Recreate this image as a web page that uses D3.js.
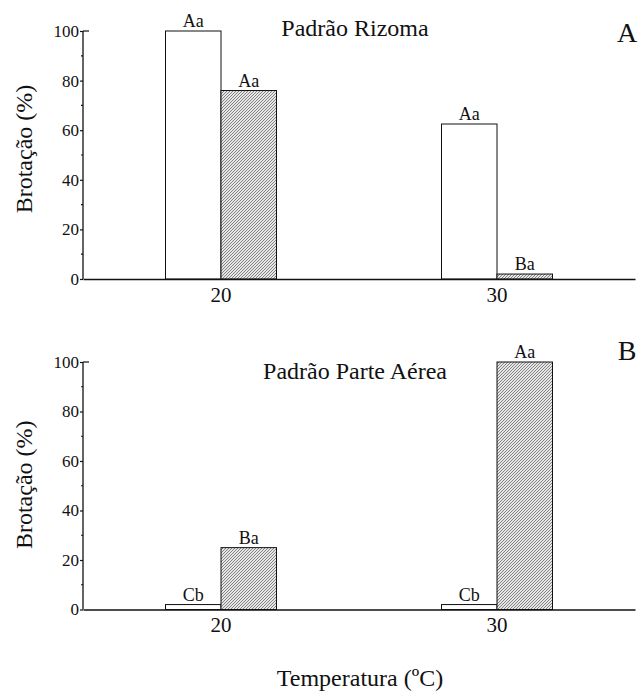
<!DOCTYPE html>
<html>
<head>
<meta charset="utf-8">
<script src="https://cdn.jsdelivr.net/npm/d3@7"></script>
<style>
  html, body { margin: 0; padding: 0; background: #fff; }
  svg { display: block; }
</style>
</head>
<body>
<svg id="chart" width="639" height="691"></svg>
<script>
// ---- data ----
const categories = ["20", "30"];
const seriesNames = ["claro", "hachurado"];
const rizomaClaro = [100, 62.5];
const rizomaHachurado = [76, 2];
const rizomaLetrasClaro = ["Aa", "Aa"];
const rizomaLetrasHachurado = ["Aa", "Ba"];
const aereaClaro = [2, 2];
const aereaHachurado = [25, 100];
const aereaLetrasClaro = ["Cb", "Cb"];
const aereaLetrasHachurado = ["Ba", "Aa"];
const yTicks = [0, 20, 40, 60, 80, 100];
const yMinorTicks = [10, 30, 50, 70, 90];
const panelTitles = ["Padrão Rizoma", "Padrão Parte Aérea"];
const panelLetters = ["A", "B"];
const yTitle = "Brotação (%)";
const xTitle = "Temperatura (ºC)";

// ---- layout ----
const FONT = "Liberation Serif";
const INK = "#111";
const svg = d3.select("#chart").attr("font-family", FONT);
const defs = svg.append("defs");
const pat = defs.append("pattern")
  .attr("id", "hatch").attr("patternUnits", "userSpaceOnUse")
  .attr("width", 3).attr("height", 3);
pat.append("rect").attr("width", 3).attr("height", 3).attr("fill", "#e6e6e6");
pat.append("path").attr("d", "M0,3 L3,0 M-1,1 L1,-1 M2,4 L4,2")
  .attr("stroke", "#6a6a6a").attr("stroke-width", 0.8);

const axisLeft = 83, axisRight = 635;
const x = d3.scaleBand().domain(categories).range([axisLeft, axisRight]).padding(0);
const barW = 55.5;
const xs = d3.scaleBand().domain(seriesNames).range([-barW, barW]).padding(0);

const panels = [
  { top: 31, bottom: 279, claro: rizomaClaro, hach: rizomaHachurado,
    lc: rizomaLetrasClaro, lh: rizomaLetrasHachurado,
    title: panelTitles[0], letter: panelLetters[0],
    titleX: 355, titleY: 36, letterY: 42, yTitleShift: -6 },
  { top: 362, bottom: 609.5, claro: aereaClaro, hach: aereaHachurado,
    lc: aereaLetrasClaro, lh: aereaLetrasHachurado,
    title: panelTitles[1], letter: panelLetters[1],
    titleX: 355, titleY: 379, letterY: 360, yTitleShift: -1 }
];

panels.forEach(p => {
  const g = svg.append("g");
  const y = d3.scaleLinear().domain([0, 100]).range([p.bottom, p.top]);

  const rows = categories.map((c, i) => [
    { cat: c, s: "claro", v: p.claro[i], lab: p.lc[i] },
    { cat: c, s: "hachurado", v: p.hach[i], lab: p.lh[i] }
  ]).flat();

  g.selectAll("rect.bar").data(rows).join("rect")
    .attr("class", "bar")
    .attr("x", d => x(d.cat) + x.bandwidth() / 2 + xs(d.s))
    .attr("y", d => y(d.v))
    .attr("width", xs.bandwidth())
    .attr("height", d => y(0) - y(d.v))
    .attr("fill", d => d.s === "claro" ? "#fff" : "url(#hatch)")
    .attr("stroke", INK).attr("stroke-width", 1);

  g.selectAll("text.lab").data(rows).join("text")
    .attr("class", "lab")
    .attr("x", d => x(d.cat) + x.bandwidth() / 2 + xs(d.s) + xs.bandwidth() / 2)
    .attr("y", d => y(d.v) - 4)
    .attr("text-anchor", "middle")
    .attr("font-family", FONT).attr("fill", INK)
    .attr("font-size", 18)
    .text(d => d.lab);

  // y axis
  const ya = g.append("g").attr("transform", `translate(${axisLeft},0)`)
    .call(d3.axisLeft(y).tickValues(yTicks).tickSize(3).tickPadding(1).tickFormat(d3.format("d")));
  ya.attr("font-family", FONT);
  ya.select(".domain").attr("d", `M0,${y(100)}V${y(0)}`).attr("stroke", INK).attr("stroke-width", 1.3);
  ya.selectAll(".tick line").attr("stroke", INK).attr("stroke-width", 1.2);
  ya.selectAll(".tick text").attr("font-size", 17).attr("fill", INK);
  g.append("g").selectAll("line").data(yMinorTicks).join("line")
    .attr("x1", axisLeft - 2).attr("x2", axisLeft)
    .attr("y1", d => y(d)).attr("y2", d => y(d))
    .attr("stroke", INK).attr("stroke-width", 1.2);
  g.append("line").attr("x1", axisLeft).attr("x2", axisLeft + 6)
    .attr("y1", y(100)).attr("y2", y(100)).attr("stroke", INK).attr("stroke-width", 1.2);

  // x axis
  const xa = g.append("g").attr("transform", `translate(0,${y(0)})`)
    .call(d3.axisBottom(x).tickSize(0).tickPadding(8));
  xa.attr("font-family", FONT);
  xa.select(".domain").attr("stroke", INK).attr("stroke-width", 1.3);
  xa.selectAll(".tick text").attr("font-size", 21).attr("dy", "0.71em").attr("fill", INK);

  // titles
  g.append("text").attr("x", p.titleX).attr("y", p.titleY)
    .attr("font-family", FONT).attr("fill", INK)
    .attr("text-anchor", "middle").attr("font-size", 24).text(p.title);
  g.append("text").attr("x", 627).attr("y", p.letterY)
    .attr("font-family", FONT).attr("fill", INK)
    .attr("text-anchor", "middle").attr("font-size", 28).text(p.letter);
  g.append("text")
    .attr("transform", `translate(32,${(p.top + p.bottom) / 2 + p.yTitleShift}) rotate(-90)`)
    .attr("font-family", FONT).attr("fill", INK)
    .attr("text-anchor", "middle").attr("font-size", 24).text(yTitle);
});

svg.append("text").attr("x", 360).attr("y", 686)
  .attr("font-family", FONT).attr("fill", INK)
  .attr("text-anchor", "middle").attr("font-size", 24).text(xTitle);
</script>
</body>
</html>
